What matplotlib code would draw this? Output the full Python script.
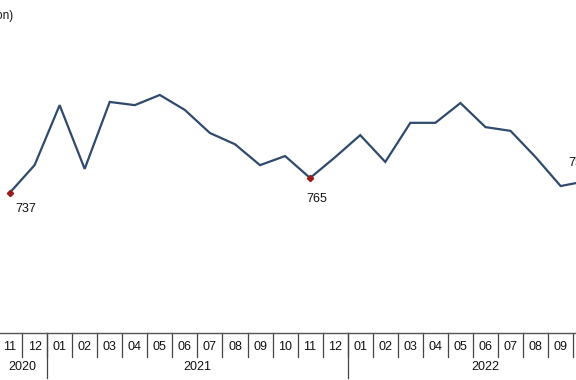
import matplotlib
matplotlib.use("Agg")
import matplotlib.pyplot as plt
import matplotlib.transforms as mtransforms
import numpy as np

plt.rcParams['font.family'] = ['Liberation Sans', 'DejaVu Sans']

months = ["11", "12", "01", "02", "03", "04", "05", "06", "07", "08", "09", "10",
          "11", "12", "01", "02", "03", "04", "05", "06", "07", "08", "09", "10", "11"]
years = ["2020", "2021", "2022"]
year_counts = [2, 12, 11]
values = [737, 789, 901, 782, 907, 901, 920, 892, 849, 828, 789, 806,
          765, 804, 845, 795, 868, 868, 905, 860, 853, 804, 750, 759, np.nan]
labelled = {0: "737", 12: "765", 23: "759"}
unit_label = "(Thousand ton)"

W, H = 576, 380
fig = plt.figure(figsize=(W / 100, H / 100), dpi=100)
n = len(months)
left_px, right_px = -3, -3 + n * 25.05
bottom_px, top_px = 333, 10
ax = fig.add_axes([left_px / W, (H - bottom_px) / H,
                   (right_px - left_px) / W, (bottom_px - top_px) / H])

x = np.arange(n)
ax.plot(x, values, color="#2F4A6D", lw=1.6, solid_joinstyle="miter", zorder=3)
for i in labelled:
    ax.plot(x[i], values[i], marker="D", ms=3.2, color="#9B1B1B", zorder=4)

ax.set_xlim(-0.5, n - 0.5)
ax.set_ylim(475.7, 1078.6)
for s in ["left", "right", "top"]:
    ax.spines[s].set_visible(False)
ax.spines["bottom"].set_color("#555555")
ax.spines["bottom"].set_linewidth(1.0)
ax.set_xticks([])
ax.set_yticks([])

ax_h = bottom_px - top_px
trans = mtransforms.blended_transform_factory(ax.transData, ax.transAxes)

# annotations
offsets = {0: (16, -16), 12: (7, -21), 23: (-7, 18)}
for i, txt in labelled.items():
    dx, dy = offsets[i]
    ax.annotate(txt, (x[i], values[i]), xytext=(dx * 0.72, dy * 0.72),
                textcoords="offset points", ha="center", va="center",
                fontsize=9, color="#111111", annotation_clip=False)

# month labels and separators
for i, m in enumerate(months):
    ax.text(i, -14.5 / ax_h, m, transform=trans, ha="center", va="center",
            fontsize=9, color="#111111", clip_on=False)
year_bounds = np.cumsum([0] + year_counts) - 0.5
for b in np.arange(n + 1) - 0.5:
    ax.plot([b, b], [0, -24 / ax_h], transform=trans, color="#444444",
            lw=0.9, clip_on=False)
for b in year_bounds:
    ax.plot([b, b], [0, -45 / ax_h], transform=trans, color="#444444",
            lw=0.9, clip_on=False)
for y_lbl, a, b in zip(years, year_bounds[:-1], year_bounds[1:]):
    ax.text((a + b) / 2, -34.5 / ax_h, y_lbl, transform=trans, ha="center",
            va="center", fontsize=9, color="#111111", clip_on=False)

fig.text(13 / W, 1 - 16.5 / H, unit_label, ha="right", va="center",
         fontsize=8.5, color="#111111")

fig.savefig("out.png", dpi=100)
